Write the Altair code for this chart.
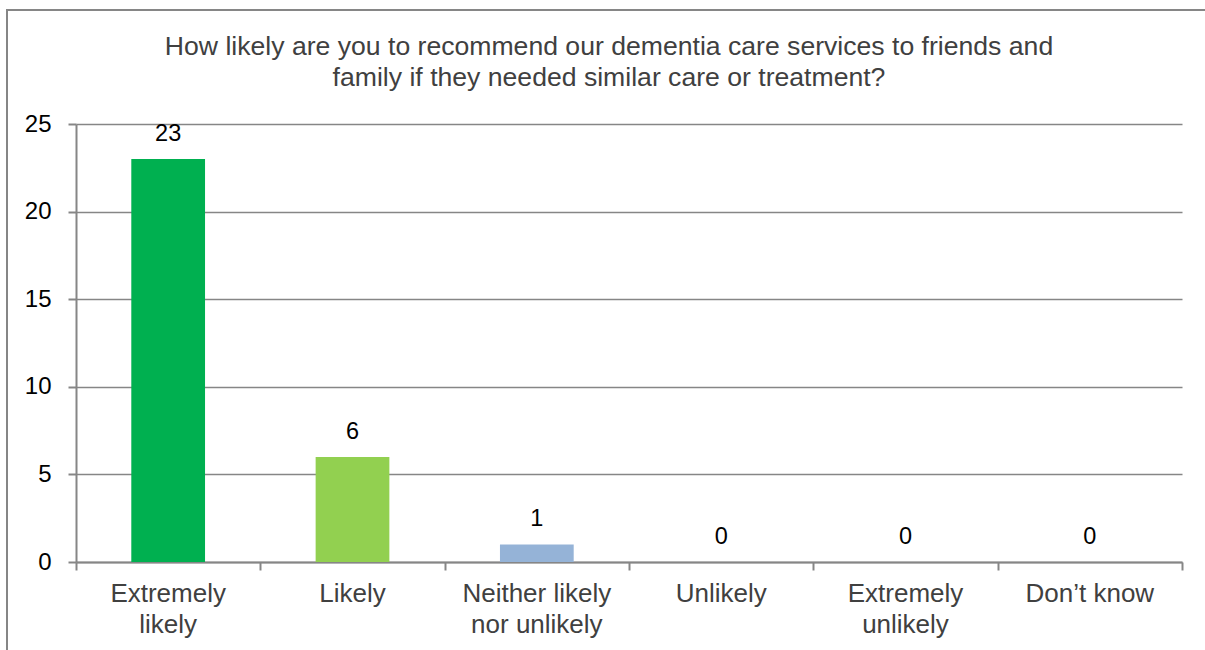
import altair as alt
import pandas as pd

categories = ["Extremely\nlikely", "Likely", "Neither likely\nnor unlikely", "Unlikely", "Extremely\nunlikely", "Don\u2019t know"]
values = [23, 6, 1, 0, 0, 0]
colors = ["#00B050", "#92D050", "#95B3D7", "#95B3D7", "#95B3D7", "#95B3D7"]
y_ticks = [0, 5, 10, 15, 20, 25]
x_bounds = [0, 1, 2, 3, 4, 5, 6]
title_lines = ["How likely are you to recommend our dementia care services to friends and",
               "family if they needed similar care or treatment?"]

df = pd.DataFrame({"cat": categories, "value": values, "color": colors, "idx": list(range(len(categories)))})

W, H = 1106, 438
GRAY = "#868686"

base = alt.Chart(df).transform_calculate(
    x0="datum.idx + 0.3", x1="datum.idx + 0.7", xc="datum.idx + 0.5", zero="0"
)

xscale = alt.Scale(domain=[0, 6], nice=False, zero=False, padding=0)
yscale = alt.Scale(domain=[0, 25], nice=False, padding=0)

bars = base.mark_rect(strokeWidth=0).encode(
    x=alt.X("x0:Q", scale=xscale,
            axis=alt.Axis(values=x_bounds, labels=False, title=None, grid=False,
                          tickSize=8, tickColor=GRAY, domainColor=GRAY, tickWidth=2, domainWidth=2)),
    x2="x1:Q",
    y=alt.Y("value:Q", scale=yscale,
            axis=alt.Axis(values=y_ticks, title=None, grid=True, gridColor=GRAY, gridWidth=1.5,
                          tickSize=8, tickColor=GRAY, domainColor=GRAY, tickWidth=2, domainWidth=2,
                          labelFont="Liberation Sans", labelFontSize=24, labelColor="#000000",
                          labelPadding=17)),
    y2="zero:Q",
    color=alt.Color("color:N", scale=None),
)

value_labels = base.mark_text(
    baseline="alphabetic", dy=-18, font="Liberation Sans", fontSize=23.5, color="#000000"
).encode(
    x=alt.X("xc:Q", scale=xscale),
    y=alt.Y("value:Q", scale=yscale),
    text="value:Q",
)

cat_labels = base.mark_text(
    baseline="top", lineBreak="\n", lineHeight=31, font="Liberation Sans", fontSize=26, color="#404040"
).encode(
    x=alt.X("xc:Q", scale=xscale),
    y=alt.value(H + 19),
    text="cat:N",
)

title_df = pd.DataFrame({"t": ["\n".join(title_lines)]})
title = alt.Chart(title_df).mark_text(
    baseline="alphabetic", align="center", lineBreak="\n", lineHeight=31,
    font="Liberation Sans", fontSize=26.6, color="#404040"
).encode(
    x=alt.value(609 - 76), y=alt.value(55 - 124), text="t:N"
)

border = alt.Chart(pd.DataFrame({"a": [0]})).mark_rect(
    fill=None, stroke=GRAY, strokeWidth=2
).encode(
    x=alt.value(7 - 76), y=alt.value(10 - 124), x2=alt.value(1400), y2=alt.value(800)
)

chart = alt.layer(border, bars, value_labels, cat_labels, title).properties(
    width=W, height=H,
    autosize=alt.AutoSizeParams(type="none"),
    padding={"left": 76, "top": 124, "right": 23, "bottom": 88},
).configure_view(stroke=None).configure_axis(labelFlush=False)

chart.save("out.html", embed_options={"renderer": "svg", "actions": False})
